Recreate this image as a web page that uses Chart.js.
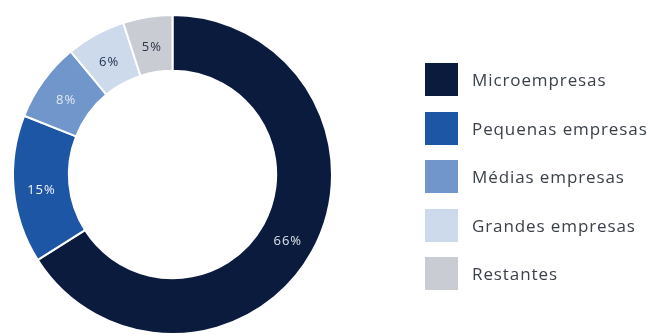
<!DOCTYPE html>
<html>
<head>
    <meta charset="utf-8">
    <title>Empresas por dimensão</title>
    <script src="https://cdn.jsdelivr.net/npm/chart.js"></script>
    <style>
        body { margin: 0; background: #fff; }
        #wrap { position: relative; width: 653px; height: 335px; overflow: hidden; }
        #chart { position: absolute; left: 0; top: 0; }
        #legend { position: absolute; left: 425px; top: 63px; margin: 0; padding: 0; list-style: none; }
        #legend li { display: flex; align-items: center; height: 33px; margin-bottom: 15.5px; }
        #legend .box { width: 33px; height: 33px; margin-right: 14px; }
        #legend .txt { font: 17px "Open Sans", sans-serif; color: #3b414b; letter-spacing: 0.9px; }
    </style>
</head>
<body>
    <div id="wrap">
        <canvas id="chart" width="653" height="335"></canvas>
        <ul id="legend"></ul>
    </div>

    <script>
        // dados
        const categorias = ['Microempresas', 'Pequenas empresas', 'Médias empresas', 'Grandes empresas', 'Restantes'];
        const valores = [66, 15, 8, 6, 5];
        const rotulos = ['66%', '15%', '8%', '6%', '5%'];

        // cores
        const cores = ['#0b1b3d', '#1d56a5', '#7096cb', '#ccdaeb', '#c9cdd3'];
        const coresTexto = ['#dfe3ea', '#f4f7fb', '#e3e9f3', '#1e2d4d', '#2c3446'];

        // rótulos dentro das fatias
        const rotulosPlugin = {
            id: 'rotulos',
            afterDatasetsDraw(chart) {
                const ctx = chart.ctx;
                const meta = chart.getDatasetMeta(0);
                ctx.save();
                ctx.font = '500 13px "Open Sans", sans-serif';
                ctx.letterSpacing = '1px';
                ctx.textAlign = 'center';
                ctx.textBaseline = 'middle';
                meta.data.forEach((arc, i) => {
                    const p = arc.tooltipPosition();
                    ctx.fillStyle = coresTexto[i];
                    ctx.fillText(rotulos[i], p.x, p.y + 3);
                });
                ctx.restore();
            }
        };

        const grafico = new Chart(document.getElementById('chart'), {
            type: 'doughnut',
            data: {
                labels: categorias,
                datasets: [{
                    data: valores,
                    backgroundColor: cores,
                    borderColor: '#ffffff',
                    borderWidth: 2
                }]
            },
            options: {
                responsive: false,
                animation: false,
                cutout: '65%',
                layout: {
                    padding: { left: 11, top: 14, right: 319, bottom: 0 }
                },
                plugins: {
                    legend: { display: false },
                    tooltip: { enabled: false }
                }
            },
            plugins: [rotulosPlugin]
        });

        // legenda em HTML
        const legenda = document.getElementById('legend');
        grafico.options.plugins.legend.labels.generateLabels(grafico).forEach(item => {
            const li = document.createElement('li');
            li.innerHTML = `<span class="box" style="background:${item.fillStyle}"></span><span class="txt">${item.text}</span>`;
            legenda.appendChild(li);
        });
    </script>
</body>
</html>
